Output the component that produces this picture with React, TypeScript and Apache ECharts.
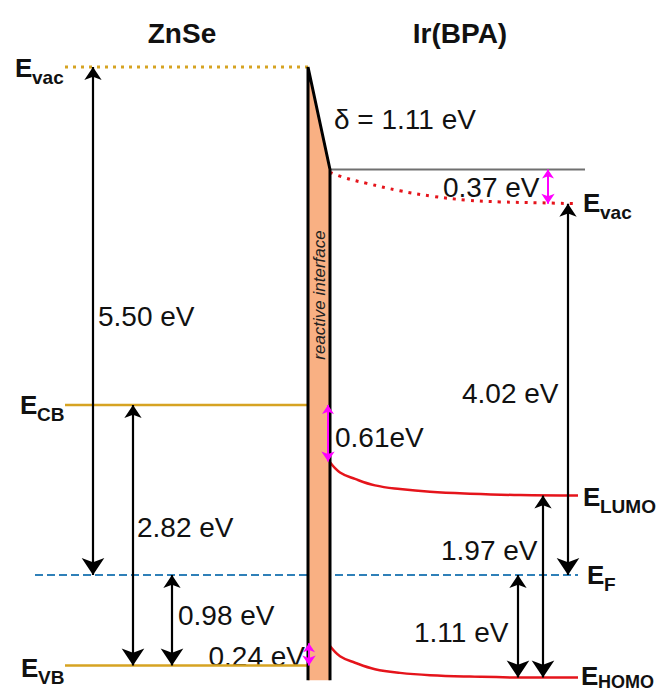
import React, { useEffect, useRef } from "react";
import * as echarts from "echarts";

// ---- Energies (eV, relative to the Fermi level E_F = 0) ----
const znseLevelNames = ["Evac", "ECB", "EVB"];
const znseLevelEnergies = [5.5, 1.84, -0.98];
const fermiEnergy = 0;
const irVacSurface = 4.39; // top of the 0.37 eV step (interface vacuum level)
const interfaceBottom = -1.14;

// Ir(BPA) band-bending curves: [position, energy]
const irVacCurve: [number, number][] = [
  [330, 4.36], [345, 4.3], [367, 4.24], [400, 4.16], [433, 4.1],
  [466, 4.06], [500, 4.04], [540, 4.03], [577, 4.02],
];
const lumoCurve: [number, number][] = [
  [330, 1.22], [340, 1.11], [355, 1.04], [375, 0.97], [400, 0.93],
  [430, 0.9], [470, 0.88], [520, 0.865], [578, 0.86],
];
const homoCurve: [number, number][] = [
  [330, -0.77], [340, -0.88], [355, -0.95], [375, -1.02], [400, -1.06],
  [430, -1.085], [470, -1.1], [520, -1.11], [578, -1.11],
];

// Energy-difference arrows
const blackArrowLabels = ["5.50 eV", "2.82 eV", "0.98 eV", "4.02 eV", "1.97 eV", "1.11 eV"];
const blackArrowFrom = [5.5, 1.84, 0, 4.02, 0.86, 0];
const blackArrowTo = [0, -0.98, -0.98, 0, -1.11, -1.11];
const magentaArrowLabels = ["0.37 eV", "0.61eV", "0.24 eV"];
const magentaArrowFrom = [4.39, 1.84, -0.74];
const magentaArrowTo = [4.02, 1.23, -0.98];
const deltaLabel = "δ = 1.11 eV";

// ---- Layout (pixel-like horizontal positions) ----
const blackArrowX = [93, 133, 172, 568, 543, 518];
const magentaArrowX = [548, 328, 309];
const znseX = [65, 308];
const ifaceX = [308, 330];

const W = 656;
const H = 693;
const Y_MIN = -1.278;
const Y_MAX = 6.226;

const GOLD = "#d6a322";
const RED = "#e5141b";
const BLUE = "#2f80b8";
const MAGENTA = "#ff00ff";
const ORANGE = "#f9b083";
const FONT = "Liberation Sans, Arial, sans-serif";

function txt(text: string, x: number, y: number, size: number, opts: any = {}) {
  return {
    type: "text",
    x,
    y,
    rotation: opts.rotation || 0,
    style: {
      text,
      fill: opts.fill || "#111",
      font: `${opts.italic ? "italic " : ""}${opts.bold ? "bold " : ""}${size}px ${FONT}`,
      textAlign: opts.align || "left",
      textVerticalAlign: "middle",
    },
  };
}

function eLabel(x: number, yCap: number, sub: string, subSize = 19, subDy = 9) {
  return [
    txt("E", x, yCap, 26, { bold: true }),
    txt(sub, x + 17, yCap + subDy, subSize, { bold: true }),
  ];
}

export default function App() {
  const ref = useRef<HTMLDivElement>(null);
  useEffect(() => {
    if (!ref.current) return;
    const chart = echarts.init(ref.current, undefined, { renderer: "svg" });

    const levelSeries = znseLevelNames.map((name, i) => ({
      type: "line",
      name,
      data: [
        [znseX[0], znseLevelEnergies[i]],
        [znseX[1], znseLevelEnergies[i]],
      ],
      showSymbol: false,
      symbol: "none",
      lineStyle: {
        color: GOLD,
        width: i === 0 ? 3 : 2.5,
        type: i === 0 ? [3, 5] : "solid",
        cap: "butt",
      },
      z: 3,
    }));

    const option: any = {
      animation: false,
      backgroundColor: "#ffffff",
      grid: { left: 0, right: 0, top: 0, bottom: 0 },
      xAxis: { type: "value", min: 0, max: W, show: false },
      yAxis: { type: "value", min: Y_MIN, max: Y_MAX, show: false },
      series: [
        ...levelSeries,
        {
          type: "line",
          data: [[35, fermiEnergy], [578, fermiEnergy]],
          symbol: "none",
          lineStyle: { color: BLUE, width: 1.8, type: [8, 4] },
          z: 2,
        },
        {
          type: "line",
          data: [[330, irVacSurface], [585, irVacSurface]],
          symbol: "none",
          lineStyle: { color: "#707070", width: 2 },
          z: 3,
        },
        {
          type: "line",
          data: irVacCurve,
          smooth: 0.4,
          symbol: "none",
          lineStyle: { color: RED, width: 3, type: [3, 6], cap: "butt" },
          z: 3,
        },
        {
          type: "line",
          data: lumoCurve,
          smooth: 0.4,
          symbol: "none",
          lineStyle: { color: RED, width: 2.5 },
          z: 3,
        },
        {
          type: "line",
          data: homoCurve,
          smooth: 0.4,
          symbol: "none",
          lineStyle: { color: RED, width: 2.5 },
          z: 3,
        },
        {
          type: "custom",
          data: [[ifaceX[0], znseLevelEnergies[0]]],
          z: 4,
          renderItem: (_p: any, api: any) => {
            const tl = api.coord([ifaceX[0], znseLevelEnergies[0]]);
            const tr = api.coord([ifaceX[1], irVacSurface]);
            const br = api.coord([ifaceX[1], interfaceBottom]);
            const bl = api.coord([ifaceX[0], interfaceBottom]);
            return {
              type: "group",
              children: [
                { type: "polygon", shape: { points: [tl, tr, br, bl] }, style: { fill: ORANGE } },
                {
                  type: "polyline",
                  shape: { points: [bl, tl, tr, br] },
                  style: { stroke: "#000", lineWidth: 3, fill: null },
                },
              ],
            };
          },
        },
        {
          type: "lines",
          coordinateSystem: "cartesian2d",
          symbol: ["arrow", "arrow"],
          symbolSize: [13, 17],
          lineStyle: { color: "#000", width: 2.2, opacity: 1 },
          data: blackArrowLabels.map((name, i) => ({
            name,
            coords: [
              [blackArrowX[i], blackArrowFrom[i]],
              [blackArrowX[i], blackArrowTo[i]],
            ],
          })),
          z: 5,
        },
        {
          type: "lines",
          coordinateSystem: "cartesian2d",
          symbol: ["arrow", "arrow"],
          symbolSize: [9, 10],
          lineStyle: { color: MAGENTA, width: 2, opacity: 1 },
          data: magentaArrowLabels.map((name, i) => ({
            name,
            coords: [
              [magentaArrowX[i], magentaArrowFrom[i]],
              [magentaArrowX[i], magentaArrowTo[i]],
            ],
          })),
          z: 6,
        },
      ],
      graphic: [
        txt("ZnSe", 182, 33, 28, { bold: true, align: "center" }),
        txt("Ir(BPA)", 460, 33, 28, { bold: true, align: "center" }),
        ...eLabel(15, 68, "vac"),
        ...eLabel(20, 405, "CB"),
        ...eLabel(21, 668, "VB"),
        ...eLabel(583, 203, "vac"),
        ...eLabel(583, 497, "LUMO"),
        ...eLabel(587, 575, "F"),
        ...eLabel(581, 676, "HOMO", 18, 6),
        txt(blackArrowLabels[0], 98, 316, 28),
        txt(blackArrowLabels[1], 137, 527, 28),
        txt(blackArrowLabels[2], 178, 615, 28),
        txt(blackArrowLabels[3], 462, 393, 28),
        txt(blackArrowLabels[4], 441, 550, 28),
        txt(blackArrowLabels[5], 414, 632, 28),
        txt(magentaArrowLabels[0], 443, 187, 28),
        txt(magentaArrowLabels[1], 335, 437, 28),
        txt(magentaArrowLabels[2], 305, 656, 28, { align: "right" }),
        txt(deltaLabel, 334, 119, 28),
        {
          type: "text",
          x: 319,
          y: 295,
          rotation: Math.PI / 2,
          z: 10,
          style: {
            text: "reactive interface",
            fill: "#222",
            font: `italic 17px ${FONT}`,
            textAlign: "center",
            textVerticalAlign: "middle",
          },
        },
      ],
    };
    chart.setOption(option);
    return () => chart.dispose();
  }, []);

  return (
    <div
      ref={ref}
      style={{ position: "absolute", left: 0, top: 0, width: W, height: H }}
    />
  );
}
